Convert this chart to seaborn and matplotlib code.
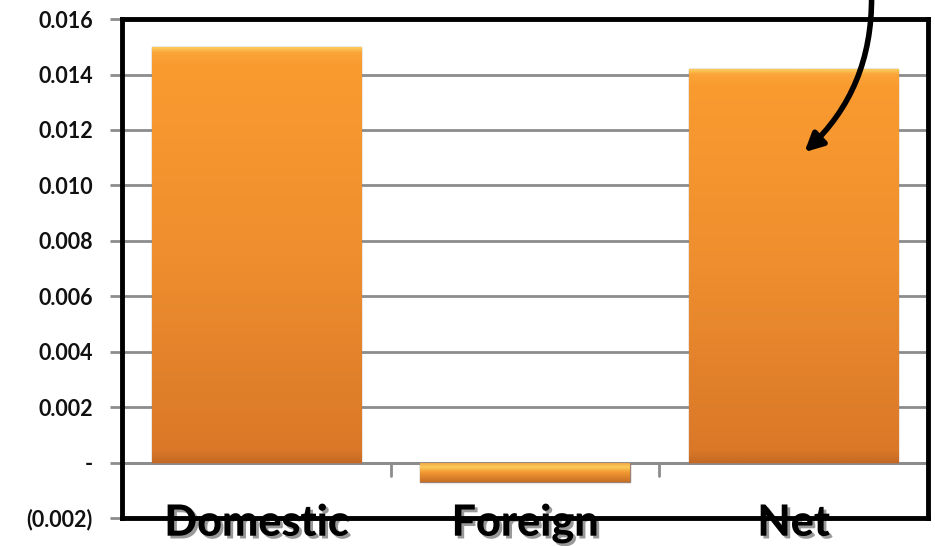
import numpy as np
import pandas as pd
import matplotlib
matplotlib.use("Agg")
import matplotlib.pyplot as plt
import matplotlib.patheffects as pe
from matplotlib.colors import LinearSegmentedColormap
import seaborn as sns

categories = ["Domestic", "Foreign", "Net"]
values = [0.0150, -0.0007, 0.0142]
yticks = [-0.002, 0.0, 0.002, 0.004, 0.006, 0.008, 0.010, 0.012, 0.014, 0.016]
ytick_labels = ["(0.002)", "-", "0.002", "0.004", "0.006", "0.008", "0.010", "0.012", "0.014", "0.016"]

sns.set_theme(style="white")
plt.rcParams["font.family"] = ["Lato", "DejaVu Sans"]

fig = plt.figure(figsize=(9.35, 5.46), dpi=100)
ax = fig.add_axes([0.1305, 0.0513, 0.862, 0.9137])

df = pd.DataFrame({"cat": categories, "val": values})
sns.barplot(data=df, x="cat", y="val", color="#F4952F", width=0.78,
            saturation=1, ax=ax, zorder=3, edgecolor="#9A8070", linewidth=1.0)

# gradient fill for bars
cmap = LinearSegmentedColormap.from_list(
    "org", [(0.0, "#FCC95A"), (0.012, "#FBA438"), (0.04, "#FA9B30"),
            (0.5, "#EE8E2E"), (0.97, "#DA7828"), (1.0, "#C46A24")])
grad = np.linspace(0, 1, 512).reshape(-1, 1)
for p in ax.patches:
    x0, y0 = p.get_x(), p.get_y()
    w, h = p.get_width(), p.get_height()
    ylo, yhi = min(y0, y0 + h), max(y0, y0 + h)
    c = cmap
    if h < 0:
        c = LinearSegmentedColormap.from_list(
            "org2", [(0.0, "#F0A040"), (0.25, "#FCCB5A"), (0.5, "#F39A32"), (1.0, "#C86E26")])
    im = ax.imshow(grad, cmap=c, aspect="auto", extent=[x0, x0 + w, ylo, yhi],
                   origin="upper", zorder=3.5)
    im.set_clip_path(p)

ax.set_xlim(-0.5, 2.5)
ax.set_ylim(-0.002, 0.016)
ax.set_yticks(yticks)
ax.set_yticklabels(ytick_labels, fontsize=15.5, fontweight="bold", color="#111111")
ax.set_xlabel("")
ax.set_ylabel("")
ax.yaxis.grid(True, color="#8C8C8C", linewidth=2, zorder=1)
ax.set_axisbelow(True)
ax.tick_params(axis="y", which="both", left=True, length=9, width=2, color="#8C8C8C", pad=12)

# zero line and category divider ticks
ax.axhline(0, color="#8C8C8C", linewidth=2, zorder=2)
for xd in [0.5, 1.5]:
    ax.plot([xd, xd], [0, -0.00048], color="#8C8C8C", linewidth=2, zorder=2)

ax.tick_params(axis="x", bottom=False, pad=-17)
ax.set_xticks(range(len(categories)))
ax.set_xticklabels(categories, fontsize=31, fontweight="black", color="black")
for lab in ax.get_xticklabels():
    lab.set_path_effects([pe.SimplePatchShadow(offset=(2, -2), shadow_rgbFace="#555555", alpha=0.6),
                          pe.Normal()])
    lab.set_zorder(10)

for s in ax.spines.values():
    s.set_visible(True)
    s.set_color("black")
    s.set_linewidth(3.5)
    s.set_zorder(5)

# curved arrow
ax.annotate("", xy=(2.04, 0.0112), xytext=(2.29, 0.0168),
            xycoords="data", textcoords="data", annotation_clip=False,
            arrowprops=dict(arrowstyle="-|>,head_length=0.9,head_width=0.45",
                            connectionstyle="arc3,rad=-0.22", color="black",
                            linewidth=4, shrinkA=0, shrinkB=0),
            zorder=8)

fig.savefig("out.png", dpi=100)
